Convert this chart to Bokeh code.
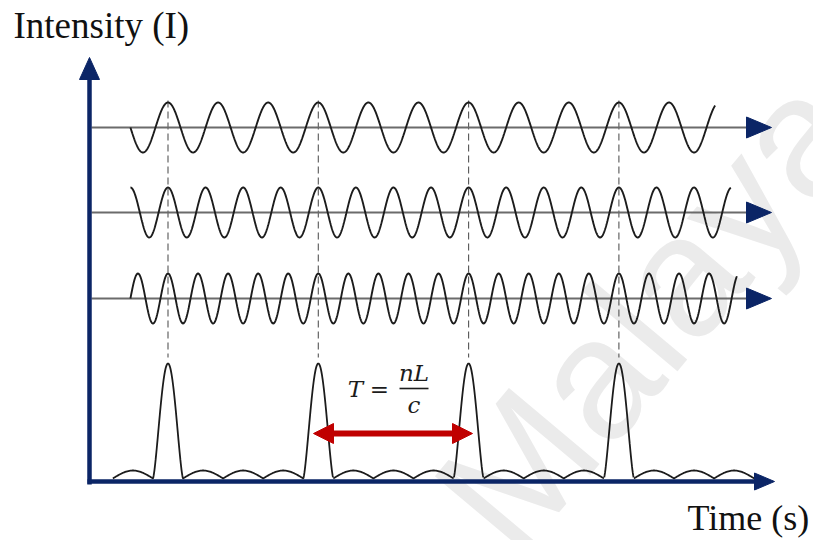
import numpy as np
from bokeh.plotting import figure
from bokeh.models import Range1d
from bokeh.core.properties import value
from bokeh.embed import file_html
from bokeh.resources import INLINE

# ---------------- data ----------------
pulse_times = [0, 1, 2, 3]           # pulse peaks, in units of the round-trip time T
mode_cycles = [3, 4, 5]              # optical cycles per round trip of each longitudinal mode
mode_start = [-0.25, -0.25, -0.25]   # where each mode trace starts (in T)
mode_end = [3.64, 3.745, 3.785]      # where each mode trace ends (in T)
lobe_halfwidth = 0.1                 # half width of a pulse's main lobe (in T)
humps_before = 1                     # side lobes before the first pulse
humps_between = 3                    # side lobes between two pulses
humps_after = 3                      # side lobes after the last pulse
y_label = "Intensity (I)"
x_label = "Time (s)"
formula_lhs = "T"
formula_eq = "="
formula_num = "nL"
formula_den = "c"
watermark = "Malaya"

# ---------------- layout ----------------
W, H = 813, 540
X0, TPX = 167.5, 150.3          # pixel of t=0 and pixels per T

def X(t):
    return X0 + TPX * np.asarray(t, dtype=float)

def Y(py):
    return H - np.asarray(py, dtype=float)

NAVY = "#0b2566"
INK = "#1c1c1c"
RED = "#c00000"

wave_base = [127, 212, 298]
wave_amp = 25
base_x0, base_x1 = 91, 748
head_tip, head_len, head_half = 771, 25, 10.5

pulse_base = 478
pulse_height = 115
hump_height = 8

p = figure(width=W, height=H, x_range=Range1d(0, W), y_range=Range1d(0, H),
           output_backend="svg", toolbar_location=None, min_border=0)
p.axis.visible = False
p.grid.visible = False
p.outline_line_color = None
p.background_fill_color = "white"
p.border_fill_color = "white"

# watermark
p.text(x=[470], y=[Y(524)], text=[watermark], angle=np.radians(50),
       text_font=value("Liberation Sans"), text_font_size="172px",
       text_color="#ebebeb", text_align="left", text_baseline="alphabetic")

# dashed guide lines through the pulse peaks
px = X(pulse_times)
p.segment(x0=px, y0=[Y(100)] * len(px), x1=px, y1=[Y(357)] * len(px),
          line_color="#555555", line_width=1.1, line_dash="7 4")

# mode baselines, waves and arrowheads
for i, n in enumerate(mode_cycles):
    yb = Y(wave_base[i])
    p.line([base_x0, base_x1], [yb, yb], line_color="#6b6b6b", line_width=1.8)
    t = np.linspace(mode_start[i], mode_end[i], 1500)
    p.line(X(t), yb + wave_amp * np.cos(2 * np.pi * n * t), line_color=INK, line_width=1.9)
    p.patch([head_tip - head_len, head_tip, head_tip - head_len],
            [yb + head_half, yb, yb - head_half], fill_color=NAVY, line_color=NAVY)

# pulse train (intensity)
ts, ys = [], []
def hump(a, b, k):
    w = (b - a) / k
    for j in range(k):
        tt = np.linspace(a + j * w, a + (j + 1) * w, 40)
        ts.extend(tt)
        ys.extend(hump_height * np.sin(np.pi * (tt - (a + j * w)) / w))

hw = lobe_halfwidth
hump(pulse_times[0] - hw - (1 - 2 * hw) / humps_between * humps_before, pulse_times[0] - hw, humps_before)
for k, tp in enumerate(pulse_times):
    tt = np.linspace(tp - hw, tp + hw, 80)
    u = (tt - tp) / hw
    ts.extend(tt)
    ys.extend(pulse_height * np.cos(np.pi * u / 2) ** 1.4)
    if k < len(pulse_times) - 1:
        hump(tp + hw, pulse_times[k + 1] - hw, humps_between)
    else:
        hump(tp + hw, tp + hw + (1 - 2 * hw) / humps_between * humps_after, humps_after)
p.line(X(ts), Y(pulse_base) + np.array(ys), line_color=INK, line_width=1.8)

# axes with arrowheads
p.line([89, 89], [Y(484), Y(76)], line_color=NAVY, line_width=4.5)
p.patch([79, 89, 99], [Y(79), Y(57), Y(79)], fill_color=NAVY, line_color=NAVY)
p.line([87, 757], [Y(481), Y(481)], line_color=NAVY, line_width=4.5)
p.patch([754, 774, 754], [Y(472.5), Y(481), Y(489.5)], fill_color=NAVY, line_color=NAVY)

# period arrow
ya = Y(433)
p.line([328, 457], [ya, ya], line_color=RED, line_width=6)
p.patch([333, 313, 333], [ya + 10, ya, ya - 10], fill_color=RED, line_color=RED)
p.patch([452, 472, 452], [ya + 10, ya, ya - 10], fill_color=RED, line_color=RED)

# formula T = nL / c
ff = value("DejaVu Serif")
fs = "23px"
p.text(x=[355], y=[Y(388)], text=[formula_lhs], text_font=ff, text_font_style="italic",
       text_font_size=fs, text_color=INK, text_align="center", text_baseline="middle")
p.text(x=[379], y=[Y(388)], text=[formula_eq], text_font=ff,
       text_font_size=fs, text_color=INK, text_align="center", text_baseline="middle")
p.text(x=[413.5], y=[Y(372)], text=[formula_num], text_font=ff, text_font_style="italic",
       text_font_size=fs, text_color=INK, text_align="center", text_baseline="middle")
p.segment(x0=[399], y0=[Y(388)], x1=[428], y1=[Y(388)], line_color=INK, line_width=1.6)
p.text(x=[413.5], y=[Y(404)], text=[formula_den], text_font=ff, text_font_style="italic",
       text_font_size=fs, text_color=INK, text_align="center", text_baseline="middle")

# axis titles
p.text(x=[13], y=[Y(25)], text=[y_label], text_font=value("Liberation Serif"),
       text_font_size="37px", text_color="#111111", text_align="left", text_baseline="alphabetic")
p.text(x=[687], y=[Y(517)], text=[x_label], text_font=value("Liberation Serif"),
       text_font_size="36px", text_color="#111111", text_align="left", text_baseline="alphabetic")

open("out.html", "w").write(file_html(p, INLINE))
